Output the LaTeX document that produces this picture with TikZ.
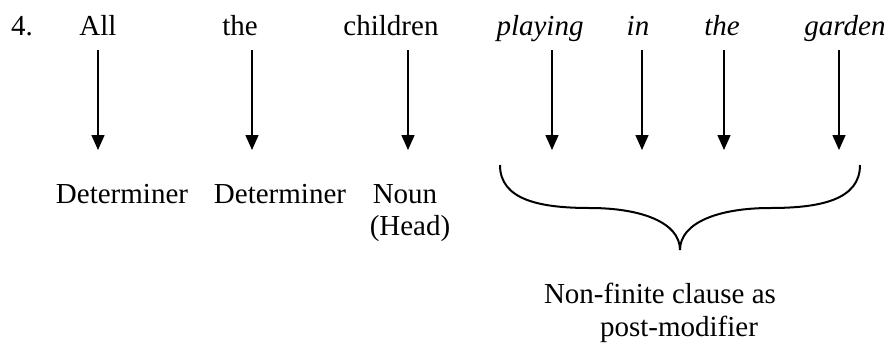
\documentclass[tikz,border=0pt]{standalone}
\usepackage{fontspec}
\setmainfont{Liberation Serif}
\usetikzlibrary{arrows.meta}
\tikzset{
  word/.style={anchor=base,inner sep=0pt,text depth=7.5pt},
  tag/.style={anchor=base,inner sep=0pt},
  arr/.style={-{Triangle[width=6.5pt,length=7.5pt]},line width=0.8pt},
}
\begin{document}
\begin{tikzpicture}[x=0.5pt,y=-0.5pt,font=\fontsize{14.5}{17}\selectfont]
\useasboundingbox (0,0) rectangle (896,344);
\node[word] (num) at (22,35) {4.};
\node[word] (w1) at (98,35) {All};
\node[word] (w2) at (240,35) {the};
\node[word] (w3) at (391,35) {children};
\node[word] (w4) at (540,35) {\itshape playing};
\node[word] (w5) at (638,35) {\itshape in};
\node[word] (w6) at (722,35) {\itshape the};
\node[word] (w7) at (845,35) {\itshape garden};
\coordinate (e1) at (98,150);
\coordinate (e2) at (252,150);
\coordinate (e3) at (408,150);
\coordinate (e4) at (552,150);
\coordinate (e5) at (642,150);
\coordinate (e6) at (724,150);
\coordinate (e7) at (839,150);
\foreach \i in {1,...,7}
  \draw[arr] (w\i.south -| e\i) -- (e\i);
\node[tag] (det1) at (122,203) {Determiner};
\node[tag] (det2) at (280,203) {Determiner};
\node[tag] (noun) at (405,203) {Noun};
\node[tag] (head) at (410,235) {(Head)};
\coordinate (bl) at (500,165);
\coordinate (br) at (860,165);
\coordinate (bt) at (680,250);
\draw[line width=1pt] (bl) .. controls (500,200) and (540,208) .. (590,208)
  .. controls (640,208) and (680,222) .. (bt)
  .. controls (680,222) and (720,208) .. (770,208)
  .. controls (820,208) and (860,200) .. (br);
\node[tag] (nfc) at (660,303) {Non-finite clause as};
\node[tag] (pm) at (679,336) {post-modifier};
\end{tikzpicture}
\end{document}
